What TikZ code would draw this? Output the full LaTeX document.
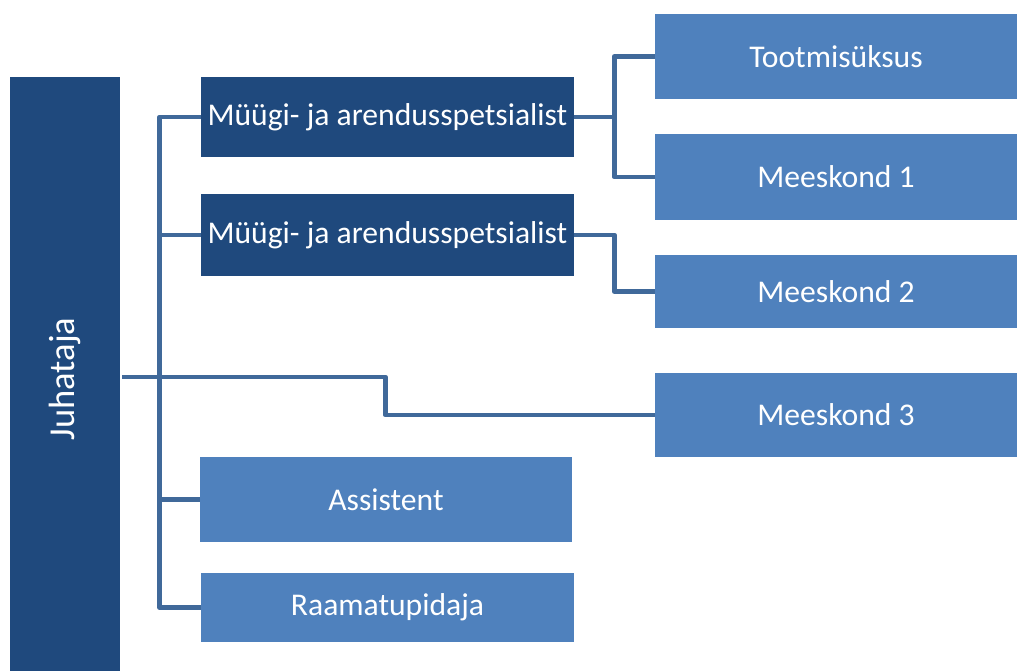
\documentclass[tikz,border=0pt]{standalone}
\usepackage{fontspec}
\setmainfont{Carlito}
\usetikzlibrary{calc}
\definecolor{darkblue}{HTML}{1F497D}
\definecolor{lightblue}{HTML}{4F81BD}
\definecolor{linkblue}{HTML}{40699A}
\tikzset{
  box/.style={rectangle,inner sep=0pt,text=white,font=\fontsize{18}{20}\selectfont},
  darkbox/.style={box,fill=darkblue},
  lightbox/.style={box,fill=lightblue},
  conn/.style={draw=linkblue,line width=2.7pt,line join=round}
}
\begin{document}
\begin{tikzpicture}[x=0.02cm,y=-0.02cm]
\useasboundingbox (0,0) rectangle (1017,671);
\node[darkbox,minimum width=2.2cm,minimum height=11.88cm] (jht) at (65,374) {};
\node[white,font=\fontsize{20.8}{23}\selectfont,rotate=90] at (65,379) {Juhataja};
\node[darkbox,minimum width=7.46cm,minimum height=1.6cm] (ms1) at (387.5,117) {Müügi- ja arendusspetsialist};
\node[darkbox,minimum width=7.46cm,minimum height=1.64cm] (ms2) at (387.5,235) {Müügi- ja arendusspetsialist};
\node[lightbox,minimum width=7.24cm,minimum height=1.7cm] (tms) at (836,56.5) {Tootmisüksus};
\node[lightbox,minimum width=7.24cm,minimum height=1.72cm] (mk1) at (836,177) {Meeskond 1};
\node[lightbox,minimum width=7.24cm,minimum height=1.46cm] (mk2) at (836,291.5) {Meeskond 2};
\node[lightbox,minimum width=7.24cm,minimum height=1.68cm] (mk3) at (836,415) {Meeskond 3};
\node[lightbox,minimum width=7.44cm,minimum height=1.7cm] (ast) at (386,499.5) {Assistent};
\node[lightbox,minimum width=7.46cm,minimum height=1.38cm] (rmp) at (387.5,607.5) {Raamatupidaja};
\draw[conn] (ms1.west) -- ++(-41,0) coordinate (t1) -- (t1 |- rmp.west) -- (rmp.west);
\foreach \n in {ms2,ast}
  \draw[conn] (\n.west) -- (t1 |- \n.west);
\draw[conn] ($(jht.east)+(2,3)$) -- ++(263,0) |- (mk3.west);
\draw[conn] (ms1.east) -- ++(40,0) coordinate (t2) |- (tms.west);
\draw[conn] (t2) |- (mk1.west);
\draw[conn] (ms2.east) -- ++(40,0) |- (mk2.west);
\end{tikzpicture}
\end{document}
